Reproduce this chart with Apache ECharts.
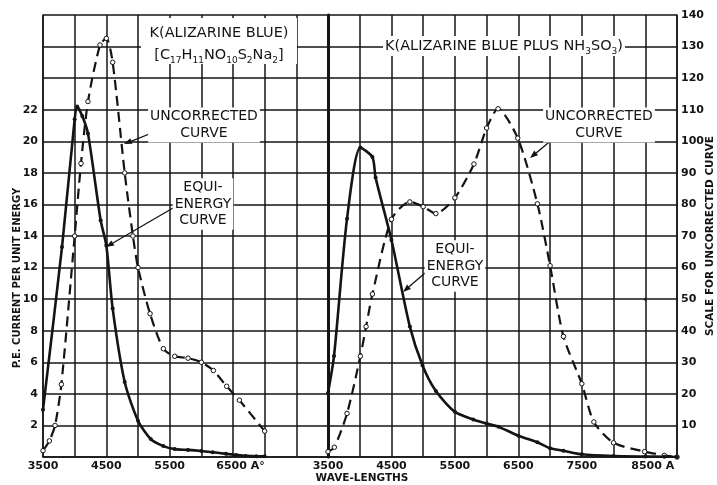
<!DOCTYPE html>
<html><head><meta charset="utf-8">
<script src="https://cdn.jsdelivr.net/npm/echarts@6/dist/echarts.min.js"></script>
<style>html,body{margin:0;padding:0;background:#fff}#c{width:717px;height:485px}</style>
</head><body><div id="c"></div>
<script>
// ---- data (wave-length in Angstrom) ----
const leftEquiX = [3500,3800,4000,4040,4120,4210,4410,4500,4600,4790,5000,5200,5400,5580,5790,6000,6180,6390,6550,6700,6870,7000];
const leftEquiY = [3.0,13.3,21.4,22.2,21.6,20.5,15.0,13.4,9.4,4.75,2.3,1.14,0.69,0.5,0.45,0.38,0.3,0.2,0.13,0.07,0.04,0.04];
const leftUncX = [3500,3600,3690,3790,4000,4100,4210,4400,4500,4600,4790,4920,5000,5190,5400,5580,5790,6000,6190,6400,6600,7000];
const leftUncY = [2,5.1,10,23,70,93,112.6,130.5,132.6,125,90,70,60,45.4,34.3,31.9,31.3,30,27.4,22.4,18,8.2];
const rightEquiX = [3500,3595,3800,4010,4200,4250,4500,4790,4990,5200,5500,5790,6000,6190,6500,6800,7000,7210,7500,8000,8500,8800,9000];
const rightEquiY = [4.05,6.4,15.1,19.6,19.0,17.7,13.75,8.26,5.8,4.18,2.86,2.38,2.12,1.91,1.35,0.93,0.55,0.4,0.17,0.06,0.03,0.02,0.0];
const rightUncX = [3500,3600,3800,4010,4100,4200,4500,4790,5000,5200,5500,5800,6000,6180,6490,6800,7000,7210,7500,7690,8000,8490,8800,9000];
const rightUncY = [1.7,3.1,13.8,31.9,41.3,51.6,75.3,80.8,79.3,77.1,82.1,92.8,104.2,110.3,101,80.2,60.6,38.2,23.2,11.1,4.5,1.7,0.5,0];
const strayX = [8500], strayY = [50];
const leftXLabels = {3500:'3500',4500:'4500',5500:'5500',6500:'{a|6500 A°}'};
const rightXLabels = {3500:'3500',4500:'4500',5500:'5500',6500:'6500',7500:'7500',8500:'{a|8500 A}'};

const zip = (xs, ys) => xs.map((x, i) => [x, ys[i]]);
const INK = '#141414';
const FONT = 'DejaVu Sans';
const chart = echarts.init(document.getElementById('c'), null, {renderer: 'canvas'});

const gridLine = {show: true, lineStyle: {color: INK, width: 1.5}};
const tickFont = {color: INK, fontFamily: FONT, fontWeight: 'bold', fontSize: 11};

function xAxis(gi, max, labels) {
  return {type: 'value', gridIndex: gi, min: 3500, max: max, interval: 500,
    axisLine: {show: true, lineStyle: {color: INK, width: 1.5}}, axisTick: {show: false},
    splitLine: gridLine,
    axisLabel: Object.assign({}, tickFont, {margin: 4, showMinLabel: true, showMaxLabel: true,
      formatter: v => labels[v] || '', rich: {a: Object.assign({}, tickFont, {padding: [0, 0, 0, 15]})}})};
}

const lineSolid = (xi, yi, data) => ({type: 'line', xAxisIndex: xi, yAxisIndex: yi, data: data, smooth: 0.25,
  symbol: 'circle', symbolSize: 4, showSymbol: true,
  lineStyle: {color: INK, width: 2.6}, itemStyle: {color: INK}, z: 5});
const lineDash = (xi, yi, data) => ({type: 'line', xAxisIndex: xi, yAxisIndex: yi, data: data, smooth: 0.25,
  symbol: 'circle', symbolSize: 4.5, showSymbol: true,
  lineStyle: {color: INK, width: 2.2, type: [10, 6]}, itemStyle: {color: '#fff', borderColor: INK, borderWidth: 1}, z: 4});

function arrow(x1, y1, x2, y2) {
  const a = Math.atan2(y2 - y1, x2 - x1), L = 8, W = 3;
  const bx = x2 - L * Math.cos(a), by = y2 - L * Math.sin(a);
  return [
    {type: 'line', shape: {x1: x1, y1: y1, x2: bx, y2: by}, style: {stroke: INK, lineWidth: 1.3}, z: 20},
    {type: 'polygon', shape: {points: [[x2, y2], [bx - W * Math.sin(a), by + W * Math.cos(a)], [bx + W * Math.sin(a), by - W * Math.cos(a)]]},
      style: {fill: INK}, z: 20}
  ];
}
function label(x, y, text, extra) {
  return {type: 'text', x: x, y: y, z: 30,
    style: Object.assign({text: text, fill: INK, font: '14px "' + FONT + '"', align: 'center', verticalAlign: 'middle',
      lineHeight: 16.5, backgroundColor: '#fff', padding: [1, 2]}, extra || {})};
}
const richBase = {
  n: {fontSize: 14.5, fontFamily: FONT, fill: INK, lineHeight: 20, verticalAlign: 'middle'},
  s: {fontSize: 9, fontFamily: FONT, fill: INK, lineHeight: 9, verticalAlign: 'bottom'}
};

const option = {
  animation: false,
  backgroundColor: '#fff',
  grid: [
    {left: 43, top: 15, width: 285, height: 442},
    {left: 328, top: 15, width: 349, height: 442}
  ],
  xAxis: [xAxis(0, 8000, leftXLabels), xAxis(1, 9000, rightXLabels)],
  yAxis: [
    {type: 'value', gridIndex: 0, position: 'left', min: 0, max: 28, interval: 2,
      axisLine: {show: true, lineStyle: {color: INK, width: 1.5}}, axisTick: {show: false}, splitLine: gridLine,
      axisLabel: Object.assign({}, tickFont, {margin: 5, formatter: v => (v > 0 && v <= 22) ? String(v) : ''})},
    {type: 'value', gridIndex: 0, position: 'right', min: 0, max: 140, interval: 10, show: false},
    {type: 'value', gridIndex: 1, position: 'right', min: 0, max: 140, interval: 10,
      axisLine: {show: true, lineStyle: {color: INK, width: 1.5}}, axisTick: {show: false}, splitLine: gridLine,
      axisLabel: Object.assign({}, tickFont, {margin: 4, formatter: v => v > 0 ? String(v) : ''})},
    {type: 'value', gridIndex: 1, position: 'left', min: 0, max: 28, interval: 2,
      axisLine: {show: true, lineStyle: {color: INK, width: 3}}, axisTick: {show: false},
      splitLine: {show: false}, axisLabel: {show: false}}
  ],
  series: [
    lineSolid(0, 0, zip(leftEquiX, leftEquiY)),
    lineDash(0, 1, zip(leftUncX, leftUncY)),
    lineSolid(1, 3, zip(rightEquiX, rightEquiY)),
    lineDash(1, 2, zip(rightUncX, rightUncY)),
    {type: 'scatter', xAxisIndex: 1, yAxisIndex: 2, data: zip(strayX, strayY), symbolSize: 3, itemStyle: {color: INK}}
  ],
  graphic: [
    {type: 'rect', shape: {x: 141, y: 18, width: 156, height: 46}, style: {fill: '#fff'}, z: 10},
    label(219, 33, 'K(ALIZARINE BLUE)', {backgroundColor: null, padding: 0, font: '14.5px "' + FONT + '"'}),
    {type: 'text', x: 219, y: 55, z: 30, style: {
      text: '{n|[C}{s|17}{n|H}{s|11}{n|NO}{s|10}{n|S}{s|2}{n|Na}{s|2}{n|]}',
      rich: richBase, align: 'center', verticalAlign: 'middle'}},
    {type: 'text', x: 504, y: 46, z: 30, style: {
      text: '{n|K(ALIZARINE BLUE PLUS NH}{s|3}{n|SO}{s|3}{n|)}',
      rich: richBase, align: 'center', verticalAlign: 'middle', backgroundColor: '#fff', padding: [0, 2]}},
    label(204, 125, 'UNCORRECTED\nCURVE'),
    label(203, 204, 'EQUI-\nENERGY\nCURVE'),
    label(599, 125, 'UNCORRECTED\nCURVE'),
    label(455, 266, 'EQUI-\nENERGY\nCURVE'),
    ...arrow(157, 131, 124, 144),
    ...arrow(173, 208, 106, 247),
    ...arrow(560, 133, 530, 158),
    ...arrow(425, 273, 403, 292),
    {type: 'text', x: 17, y: 278, rotation: Math.PI / 2, z: 30,
      style: {text: 'P.E. CURRENT PER UNIT ENERGY', fill: INK, font: 'bold 10px "' + FONT + '"', align: 'center', verticalAlign: 'middle'}},
    {type: 'text', x: 710, y: 236, rotation: Math.PI / 2, z: 30,
      style: {text: 'SCALE FOR UNCORRECTED CURVE', fill: INK, font: 'bold 10.5px "' + FONT + '"', align: 'center', verticalAlign: 'middle'}},
    {type: 'text', x: 362, y: 478, z: 30,
      style: {text: 'WAVE-LENGTHS', fill: INK, font: 'bold 10.5px "' + FONT + '"', align: 'center', verticalAlign: 'middle'}}
  ]
};
chart.setOption(option);
</script>
</body></html>
